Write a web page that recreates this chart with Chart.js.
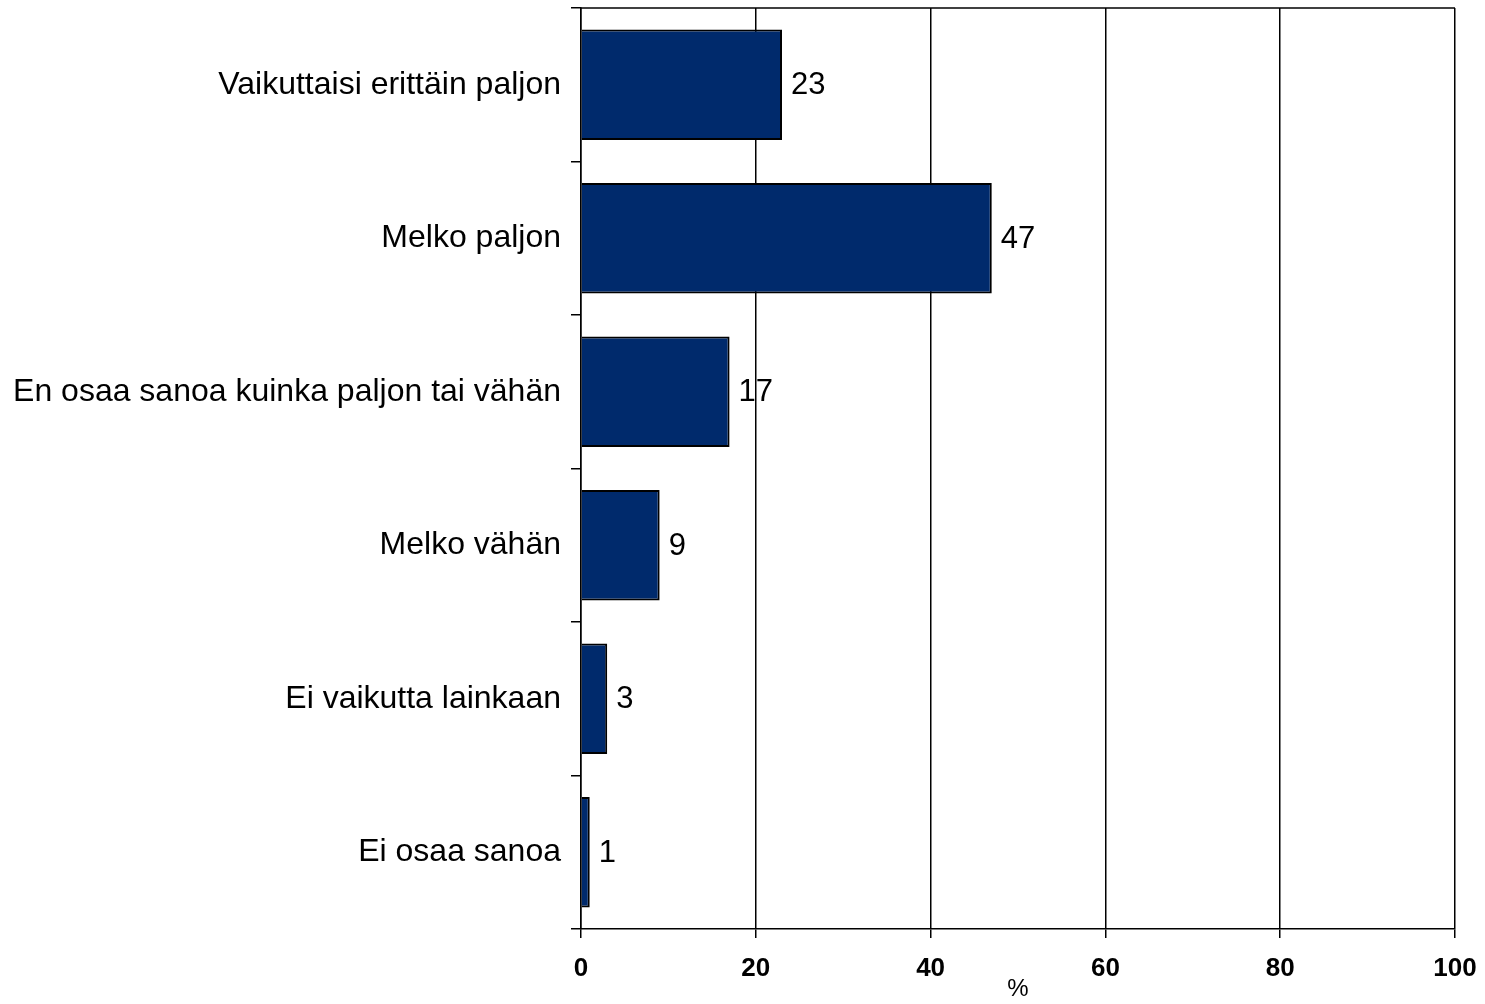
<!DOCTYPE html>
<html lang="fi">
<head>
<meta charset="utf-8">
<title>Vaikutus</title>
<script src="https://cdn.jsdelivr.net/npm/chart.js@4.4.1/dist/chart.umd.min.js"></script>
<style>
  html, body { margin: 0; padding: 0; background: #ffffff; }
  canvas { display: block; }
</style>
</head>
<body>
<canvas id="vastauksetChart" width="1485" height="1004"></canvas>
<script>
const categories = [
  "Vaikuttaisi erittäin paljon",
  "Melko paljon",
  "En osaa sanoa kuinka paljon tai vähän",
  "Melko vähän",
  "Ei vaikutta lainkaan",
  "Ei osaa sanoa",
];
const percentages = [23, 47, 17, 9, 3, 1];
const xTicks = [0, 20, 40, 60, 80, 100];

const fontFamily = '"Liberation Sans", Arial, sans-serif';

// value labels next to the bar ends
const valueLabels = {
  id: "valueLabels",
  afterDatasetsDraw(chart) {
    const ctx = chart.ctx;
    const meta = chart.getDatasetMeta(0);
    ctx.save();
    ctx.font = `31px ${fontFamily}`;
    ctx.fillStyle = "#000000";
    ctx.textAlign = "left";
    ctx.textBaseline = "middle";
    meta.data.forEach((bar, i) => {
      ctx.fillText(String(percentages[i]), bar.x + 9, bar.y + 1);
    });
    ctx.restore();
  },
};

// top edge of the plot area
const plotTopLine = {
  id: "plotTopLine",
  afterDraw(chart) {
    const { ctx, chartArea } = chart;
    ctx.save();
    ctx.strokeStyle = "#000000";
    ctx.lineWidth = 1.5;
    ctx.beginPath();
    ctx.moveTo(chartArea.left, chartArea.top);
    ctx.lineTo(chartArea.right, chartArea.top);
    ctx.stroke();
    ctx.restore();
  },
};

const ctx = document.getElementById("vastauksetChart");

new Chart(ctx, {
  type: "bar",
  data: {
    labels: categories,
    datasets: [
      {
        label: "%",
        data: percentages,
        backgroundColor: "#002A6C",
        borderColor: "#000000",
        borderWidth: 2,
        barPercentage: 0.72,
        categoryPercentage: 1,
      },
    ],
  },
  options: {
    indexAxis: "y",
    responsive: false,
    animation: false,
    devicePixelRatio: 1,
    layout: {
      padding: { left: 0, right: 30, top: 8, bottom: 0 },
    },
    plugins: {
      legend: { display: false },
      tooltip: { enabled: false },
    },
    scales: {
      x: {
        min: 0,
        max: 100,
        afterBuildTicks: (axis) => {
          axis.ticks = xTicks.map((v) => ({ value: v }));
        },
        afterFit: (axis) => {
          axis.height = 75;
          axis.paddingLeft = 0;
          axis.paddingRight = 0;
        },
        grid: {
          color: "#000000",
          lineWidth: 1.5,
          tickLength: 9,
          drawOnChartArea: true,
        },
        border: { color: "#000000", width: 1.5 },
        ticks: {
          color: "#000000",
          padding: 15,
          maxRotation: 0,
          font: { family: fontFamily, size: 26, weight: "bold" },
        },
        title: {
          display: true,
          text: "%",
          color: "#000000",
          padding: { top: 0, bottom: 0 },
          font: { family: fontFamily, size: 24 },
        },
      },
      y: {
        afterFit: (axis) => {
          axis.width = 581;
          axis.paddingTop = 0;
          axis.paddingBottom = 0;
        },
        grid: {
          offset: true,
          drawOnChartArea: false,
          color: "#000000",
          lineWidth: 1.5,
          tickLength: 10,
        },
        border: { color: "#000000", width: 1.5 },
        ticks: {
          color: "#000000",
          padding: 10,
          font: { family: fontFamily, size: 32 },
        },
      },
    },
  },
  plugins: [valueLabels, plotTopLine],
});
</script>
</body>
</html>
